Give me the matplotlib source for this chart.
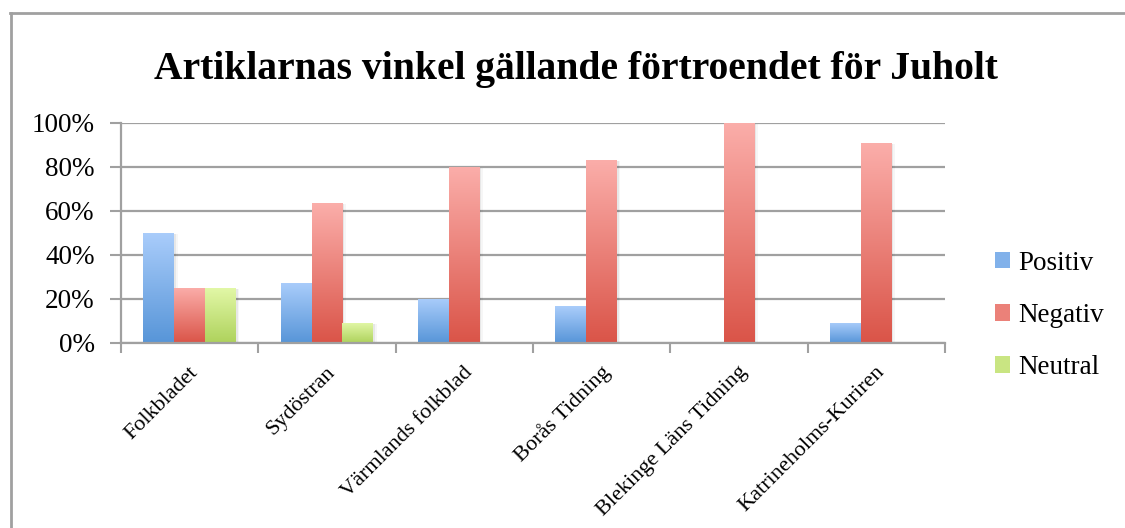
import numpy as np
import matplotlib.pyplot as plt
from matplotlib.colors import LinearSegmentedColormap
from matplotlib.lines import Line2D
from matplotlib.patches import Patch

plt.rcParams['font.family'] = ['Liberation Serif', 'DejaVu Serif']

title = "Artiklarnas vinkel gällande förtroendet för Juholt"
categories = ["Folkbladet", "Sydöstran", "Värmlands folkblad", "Borås Tidning",
              "Blekinge Läns Tidning", "Katrineholms-Kuriren"]
series = ["Positiv", "Negativ", "Neutral"]
positiv = [50.0, 27.3, 20.0, 16.7, 0.0, 9.1]
negativ = [25.0, 63.6, 80.0, 83.3, 100.0, 90.9]
neutral = [25.0, 9.1, 0.0, 0.0, 0.0, 0.0]
yticks = [0, 20, 40, 60, 80, 100]

# (top colour, bottom colour) of each gradient
grad_colors = [("#aacdfb", "#5795d8"),
               ("#fbaeaa", "#da5448"),
               ("#e3f8a8", "#aed25c")]
grid_col = "#a0a0a0"


def gradient_bars(ax, bars, top, bottom):
    cmap = LinearSegmentedColormap.from_list("g", [bottom, top])
    grad = np.linspace(0, 1, 256).reshape(-1, 1)
    for b in bars:
        h = b.get_height()
        if h <= 0:
            continue
        x0, w = b.get_x(), b.get_width()
        # faint drop shadow
        for k, a in [(0.012, 0.06), (0.024, 0.035)]:
            ax.add_patch(plt.Rectangle((x0 + k, 0), w, h - 0.5, color="black",
                                       alpha=a, lw=0, zorder=1.5))
        b.set_facecolor("none")
        im = ax.imshow(grad, extent=[x0, x0 + w, 0, h], origin="lower",
                       cmap=cmap, aspect="auto", zorder=2)
        im.set_clip_path(b)


fig = plt.figure(figsize=(11.25, 5.28), dpi=100)
ax = fig.add_axes([0.1076, 0.3504, 0.7324, 0.4167])

x = np.arange(len(categories))
w = 0.225
for i, vals in enumerate([positiv, negativ, neutral]):
    bars = ax.bar(x + (i - 1) * w, vals, w, linewidth=0, zorder=2)
    gradient_bars(ax, bars, *grad_colors[i])

ax.set_xlim(-0.5, len(categories) - 0.5)
ax.set_ylim(0, 100)

ax.set_yticks(yticks)
ax.set_yticklabels([f"{v}%" for v in yticks])
ax.yaxis.grid(True, color=grid_col, lw=1.6, zorder=0)
ax.set_axisbelow(True)

ax.set_xticks(np.arange(len(categories) + 1) - 0.5)
ax.set_xticklabels([])
ax.set_xticks(x + 0.04, minor=True)
ax.set_xticklabels(categories, minor=True, rotation=45, ha="right",
                   va="center", rotation_mode="anchor", fontsize=16)
ax.tick_params(axis="x", which="minor", length=0, pad=19)
ax.tick_params(axis="x", which="major", length=7, width=1.5, color=grid_col)
ax.tick_params(axis="y", length=8, width=1.5, color=grid_col, pad=11,
               labelsize=19.5)

for s in ["top", "right"]:
    ax.spines[s].set_visible(False)
for s in ["left", "bottom"]:
    ax.spines[s].set_color(grid_col)
    ax.spines[s].set_linewidth(1.6)

fig.text(0.512, 0.869, title, ha="center", va="center", fontsize=28.5,
         fontweight="bold")

handles = [Patch(facecolor=LinearSegmentedColormap.from_list("m", [c[1], c[0]])(0.5),
                 edgecolor="none") for c in grad_colors]
fig.legend(handles, series, loc="center left", bbox_to_anchor=(0.884, 0.403),
           frameon=False, fontsize=19.5, handlelength=0.58, handleheight=0.58,
           handletextpad=0.3, labelspacing=1.0, borderpad=0, borderaxespad=0)

# chart frame (top and left edges)
fig.add_artist(Line2D([10 / 1125, 1], [1 - 13 / 528] * 2, color=grid_col,
                      lw=2, transform=fig.transFigure))
fig.add_artist(Line2D([11 / 1125] * 2, [0, 1 - 13 / 528], color=grid_col,
                      lw=2, transform=fig.transFigure))

fig.savefig("out.png", dpi=100)
